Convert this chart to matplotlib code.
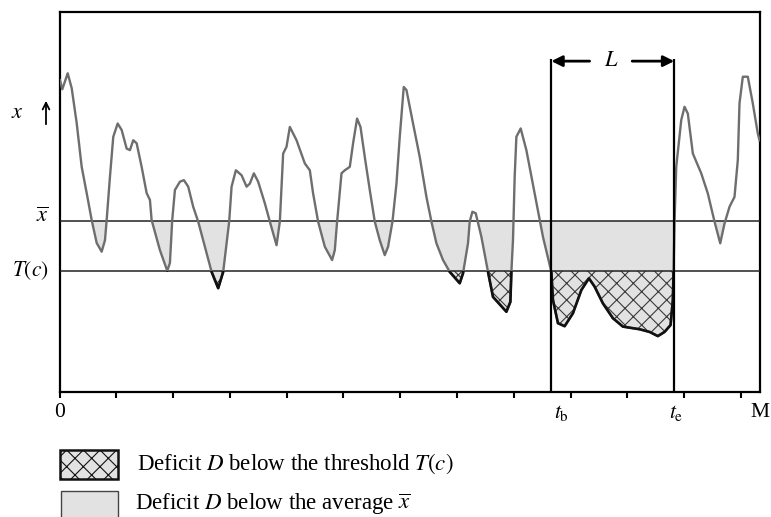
import numpy as np
import matplotlib
matplotlib.use("Agg")
import matplotlib.pyplot as plt
from matplotlib.patches import Rectangle, FancyArrowPatch

plt.rcParams['font.family'] = ['Liberation Serif', 'DejaVu Serif']
plt.rcParams['mathtext.fontset'] = 'stix'
plt.rcParams['hatch.linewidth'] = 0.8

# ---- data (time in days, flow value in arbitrary units) ----
days = [0.26, 1.48, 4.33, 6.44, 9.08, 11.72, 14.36, 17.0, 19.63, 22.27, 24.02, 24.91,
        26.65, 28.40, 30.72, 32.83, 35.47, 37.21, 38.95, 40.75, 43.39, 46.03, 47.77,
        48.66, 53.04, 56.90, 58.32, 59.54, 60.96, 63.60, 65.71, 67.98, 70.62, 73.26,
        76.80, 80.33, 83.82, 86.46, 89.62, 90.89, 93.16, 96.17, 98.81, 100.55, 102.66,
        104.93, 108.47, 111.11, 114.64, 116.38, 118.13, 119.92, 121.66, 125.20, 129.58,
        132.22, 133.96, 136.60, 140.14, 143.99, 145.41, 146.63, 148.95, 150.69, 153.33,
        155.07, 157.18, 158.98, 161.25, 163.89, 166.53, 169.16, 171.80, 173.55, 175.87,
        177.98, 179.72, 181.83, 183.26, 186.74, 190.28, 193.81, 196.45, 199.09, 202.57,
        206.11, 211.39, 213.13, 215.77, 216.67, 218.09, 219.84, 222.84, 226.33, 228.97,
        236.04, 238.15, 238.68, 239.53, 240.42, 241.32, 243.59, 246.60, 250.98, 255.36,
        259.79, 260.64, 263.28, 266.81, 271.19, 275.63, 279.64, 282.65, 287.03, 292.31,
        297.58, 306.40, 311.67, 316.05, 319.59, 322.76, 323.97, 324.34, 324.87, 325.76,
        328.40, 330.14, 331.88, 334.53, 338.96, 342.44, 345.98, 348.99, 351.26, 353.90,
        356.53, 358.28, 359.17, 360.92, 363.56, 366.19, 368.83, 369.73]
values = [82.0, 79.6, 83.8, 79.9, 70.7, 59.2, 52.3, 45.2, 39.2, 36.9, 39.9, 45.2,
          56.6, 67.1, 70.6, 68.9, 64.0, 63.6, 66.2, 65.4, 59.2, 52.3, 50.5,
          45.2, 37.3, 31.9, 33.9, 45.2, 53.1, 55.3, 55.7, 54.0, 48.7, 44.8,
          38.2, 31.6, 27.3, 31.6, 44.8, 54.0, 58.3, 57.0, 54.0, 54.8, 57.5,
          55.3, 49.6, 44.8, 38.6, 44.8, 62.7, 64.5, 69.7, 66.2, 60.1,
          58.3, 52.2, 44.8, 38.2, 34.7, 37.3, 44.8, 57.5, 58.3, 59.2,
          65.4, 71.9, 69.7, 61.8, 53.1, 44.8, 39.9, 36.0, 38.2, 44.8,
          54.8, 67.1, 80.2, 79.4, 70.6, 61.8, 51.3, 44.8, 39.1, 34.7,
          31.6, 28.6, 31.2, 39.1, 44.8, 47.4, 47.0, 40.8, 31.6, 25.0,
          21.1, 23.7, 31.6, 39.9, 56.6, 67.1, 69.3, 63.6, 52.2, 40.8,
          31.6, 24.2, 18.1, 17.3, 20.7, 26.8, 29.9, 27.7, 23.3, 19.4,
          17.2, 16.5, 15.8, 14.7, 15.8, 17.6, 24.2, 31.6, 44.8, 59.2,
          71.5, 75.0, 73.2, 62.7, 57.5, 52.2, 44.8, 39.1, 44.3, 48.7,
          51.3, 61.0, 75.9, 82.9, 82.9, 75.9, 68.0, 66.2]
mean_level = 45.0
threshold_level = 31.8
t_begin = 259.8
t_end = 324.7
x_max = 370
tick_days = list(range(0, 361, 30))

x = np.array(days)
y = np.array(values)

fig = plt.figure(figsize=(7.71, 5.17), dpi=100)
ax = fig.add_axes([59.5/771, (517-392)/517, (760-59.5)/771, (392-11.7)/517])
ax.set_xlim(0, x_max)
ax.set_ylim(0, 100)

# deficit below average
ax.fill_between(x, y, mean_level, where=y < mean_level, interpolate=True,
                facecolor='#e2e2e2', edgecolor='none', linewidth=0, zorder=1)
# deficit below threshold (hatched)
ax.fill_between(x, y, threshold_level, where=y < threshold_level, interpolate=True,
                facecolor='none', edgecolor='#3a3a3a', hatch='xx', linewidth=0, zorder=2)

ax.axhline(mean_level, color='#222222', lw=1.1, zorder=3)
ax.axhline(threshold_level, color='#222222', lw=1.1, zorder=3)

ax.plot(x, y, color='#6e6e6e', lw=1.7, zorder=4, solid_joinstyle='round')
black, = ax.plot(x, y, color='#111111', lw=1.9, zorder=5, solid_joinstyle='round')
clip = Rectangle((0, -10), x_max, threshold_level + 10, transform=ax.transData)
black.set_clip_path(clip)

# t_b / t_e lines and L annotation
ax.vlines([t_begin, t_end], 0, 87.6, color='black', lw=1.6, zorder=6)
ax.annotate('', xy=(t_begin, 87.0), xytext=(280.0, 87.0),
            arrowprops=dict(arrowstyle='-|>', lw=2.0, color='black',
                            mutation_scale=16, shrinkA=0, shrinkB=0))
ax.annotate('', xy=(t_end, 87.0), xytext=(302.5, 87.0),
            arrowprops=dict(arrowstyle='-|>', lw=2.0, color='black',
                            mutation_scale=16, shrinkA=0, shrinkB=0))
ax.text(291.4, 87.0, '$L$', ha='center', va='center', fontsize=16)

# axes styling
for s in ax.spines.values():
    s.set_linewidth(1.6)
ax.set_xticks(tick_days)
ax.set_yticks([])
ax.tick_params(axis='x', direction='out', length=4.5, width=1.5, labelbottom=False)

trans = ax.get_xaxis_transform()
lab_y = -0.03
ax.text(0, lab_y, '0', transform=trans, ha='center', va='top', fontsize=15.5)
ax.text(265.0, lab_y, r'$t_\mathrm{b}$', transform=trans, ha='center', va='top', fontsize=15.5)
ax.text(325.5, lab_y, r'$t_\mathrm{e}$', transform=trans, ha='center', va='top', fontsize=15.5)
ax.text(x_max, lab_y, 'M', transform=trans, ha='center', va='top', fontsize=15.5)

# y-side labels
ytrans = ax.get_yaxis_transform()
ax.text(-0.016, mean_level + 0.8, r'$\overline{x}$', transform=ytrans, ha='right', va='center', fontsize=16)
ax.text(-0.016, threshold_level, r'$T(c)$', transform=ytrans, ha='right', va='center', fontsize=15.5)
fig.text(17/771, 1 - 113/517, '$x$', ha='center', va='center', fontsize=16)
fig.add_artist(FancyArrowPatch((46/771, 1 - 127/517), (46/771, 1 - 98/517),
                               transform=fig.transFigure, arrowstyle='->',
                               mutation_scale=12, lw=1.3, color='black'))

# legend (manual)
fig.add_artist(Rectangle((60/771, (517-479)/517), 58/771, 29/517, transform=fig.transFigure,
                         facecolor='#e2e2e2', edgecolor='#111111', lw=1.8, hatch='xx'))
fig.add_artist(Rectangle((61/771, (517-520)/517), 57/771, 29/517, transform=fig.transFigure,
                         facecolor='#e2e2e2', edgecolor='#444444', lw=1.0))
fig.text(137/771, 1 - 469.5/517, r'Deficit $D$ below the threshold $T(c)$',
         ha='left', va='baseline', fontsize=16.5)
fig.text(135/771, 1 - 509/517, r'Deficit $D$ below the average $\overline{x}$',
         ha='left', va='baseline', fontsize=16.5)

fig.savefig('out.png', dpi=100)
